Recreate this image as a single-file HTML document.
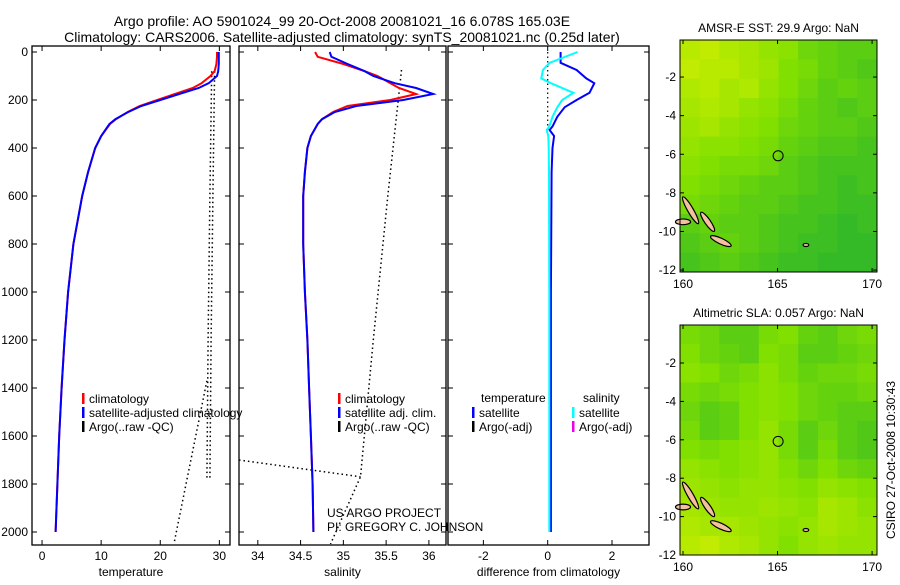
<!DOCTYPE html>
<html><head><meta charset="utf-8"><style>
body{margin:0;background:#fff;font-family:"Liberation Sans",sans-serif}
svg text{font-family:"Liberation Sans",sans-serif;font-size:12px;fill:#000}
svg text.title{font-size:14px}
</style></head><body>
<svg id="fig" width="900" height="580" xmlns="http://www.w3.org/2000/svg">
<text class="title" x="342" y="26" text-anchor="middle">Argo profile: AO 5901024_99 20-Oct-2008 20081021_16 6.078S 165.03E</text>
<text class="title" x="342" y="42" text-anchor="middle">Climatology: CARS2006. Satellite-adjusted climatology: synTS_20081021.nc (0.25d later)</text>
<g id="plots"></g>
<text x="327" y="517">US ARGO PROJECT</text>
<text x="327" y="531">PI: GREGORY C. JOHNSON</text>
<text transform="translate(895,460) rotate(-90)" text-anchor="middle">CSIRO 27-Oct-2008 10:30:43</text>
</svg>
<script>
// ---- data ----
const depths=[0,20,50,80,100,130,150,175,200,225,250,280,300,350,400,500,600,800,1000,1200,1400,1600,1800,2000];
const tempClim=[29.6,29.6,29.5,29.2,28.5,27,25.5,22.5,19.5,16.5,14.5,12.5,11.5,10,9,7.8,6.8,5.3,4.4,3.8,3.3,2.9,2.6,2.3];
const tempSat=[29.9,29.9,29.9,29.8,29.6,28.2,26.5,23.2,20,16.8,14.6,12.4,11.4,10,9,7.8,6.8,5.3,4.4,3.8,3.3,2.9,2.6,2.3];
const salClim=[34.67,34.7,35.0,35.25,35.4,35.55,35.65,35.85,35.55,35.05,34.88,34.75,34.7,34.62,34.58,34.55,34.53,34.53,34.55,34.58,34.6,34.62,34.64,34.65];
const salSat=[34.84,34.86,35.05,35.25,35.35,35.6,35.85,36.05,35.7,35.15,34.9,34.75,34.7,34.62,34.58,34.55,34.53,34.53,34.55,34.58,34.6,34.62,34.64,34.65];
const diffDepths=[0,45,75,110,130,170,200,230,270,310,325,350,400,500,1000,2000];
const diffTemp=[0.4,0.4,0.9,1.2,1.45,1.3,0.9,0.53,0.3,0.15,0.06,0.2,0.15,0.12,0.1,0.1];
const diffSal=[0.93,0.06,-0.15,-0.2,0.1,0.8,0.45,0.3,0.15,0.05,-0.03,0.02,0.03,0.04,0.05,0.05];
const rawTempD=[80,600,1200,1780];
const rawTempV=[29.2,28.9,28.6,28.4];
const rawTemp2D=[1370,2050];
const rawTemp2V=[27.9,22.3];
const rawSalD=[75,600,1200,1770,2050];
const rawSalV=[35.68,35.52,35.35,35.2,34.85];
const rawSal2D=[1700,1770];
const rawSal2V=[33.78,35.2];
const depthTicks=[0,200,400,600,800,1000,1200,1400,1600,1800,2000];
const tempTicks=[0,10,20,30], salTicks=[34,34.5,35,35.5,36], diffTicks=[-2,0,2];
const lonTicks=[160,165,170], latTicks=[-2,-4,-6,-8,-10,-12];
const sstGrid=[
[.8,.85,.75,.7,.6,.55,.4,.35,.3,.3],
[.85,.8,.8,.7,.65,.5,.45,.35,.3,.25],
[.75,.8,.7,.75,.6,.5,.4,.3,.35,.3],
[.7,.75,.7,.6,.55,.45,.35,.3,.25,.3],
[.65,.7,.6,.55,.5,.4,.35,.3,.3,.25],
[.6,.55,.55,.5,.45,.35,.3,.25,.25,.2],
[.55,.5,.45,.45,.4,.3,.25,.2,.2,.2],
[.5,.45,.4,.35,.3,.3,.25,.2,.15,.2],
[.45,.4,.35,.3,.3,.25,.2,.2,.15,.15],
[.3,.35,.3,.3,.25,.2,.2,.15,.1,.15],
[.25,.3,.35,.3,.25,.2,.15,.15,.1,.1],
[.2,.25,.3,.25,.2,.15,.15,.1,.1,.1]];
const slaGrid=[
[.45,.4,.3,.3,.45,.5,.35,.3,.4,.45],
[.5,.4,.35,.3,.5,.45,.3,.3,.35,.4],
[.55,.5,.4,.45,.55,.45,.35,.4,.4,.45],
[.45,.4,.45,.5,.55,.5,.4,.35,.35,.4],
[.4,.3,.35,.5,.55,.5,.4,.35,.3,.3],
[.45,.3,.35,.5,.6,.45,.3,.4,.3,.25],
[.5,.45,.5,.55,.6,.45,.3,.45,.3,.25],
[.6,.55,.5,.55,.6,.5,.4,.5,.4,.35],
[.65,.6,.55,.6,.6,.55,.5,.6,.55,.5],
[.7,.65,.6,.6,.65,.6,.55,.7,.65,.55],
[.75,.7,.7,.65,.6,.55,.6,.7,.65,.6],
[.8,.85,.75,.7,.6,.5,.6,.65,.6,.6]];
// ---- drawing ----
const NS='http://www.w3.org/2000/svg';
const root=document.getElementById('plots');
function mk(tag,at,parent){const e=document.createElementNS(NS,tag);for(const k in at)e.setAttribute(k,at[k]);(parent||root).appendChild(e);return e;}
const yTop=52,yPer=0.24;
const yD=d=>yTop+d*yPer;
function panel(name,x0,x1,vmin,vmax,ticks,label,ylabels){
  const g=mk('g',{});
  
  
  const xf=v=>x0+(v-vmin)/(vmax-vmin)*(x1-x0);
  const box=mk('rect',{x:x0,y:46,width:x1-x0,height:499,fill:'none',stroke:'#000','stroke-width':1.3},g);
  
  
  ticks.forEach(t=>{const x=xf(t);
    mk('line',{x1:x,x2:x,y1:545,y2:540,stroke:'#000'},g);mk('line',{x1:x,x2:x,y1:46,y2:51,stroke:'#000'},g);
    const tx=mk('text',{x:x,y:560,'text-anchor':'middle'},g);tx.textContent=t;
    
    });
  depthTicks.forEach(d=>{const y=yD(d);
    mk('line',{x1:x0,x2:x0+5,y1:y,y2:y,stroke:'#000'},g);mk('line',{x1:x1-5,x2:x1,y1:y,y2:y,stroke:'#000'},g);
    if(ylabels){const tx=mk('text',{x:28,y:y+4,'text-anchor':'end'},g);tx.textContent=d;
      
      }});
  const lb=mk('text',{x:(x0+x1)/2,y:576,'text-anchor':'middle'},g);lb.textContent=label;
  
  
  return {g,xf};
}
function line(p,vals,ds,color,w,dash,name){
  const pts=vals.map((v,i)=>p.xf(v).toFixed(1)+','+yD(ds[i]).toFixed(1)).join(' ');
  const l=mk('polyline',{points:pts,fill:'none',stroke:color,'stroke-width':w,'stroke-dasharray':dash||'none'},p.g);
  
  
}
function legend(g,x,y,color,text,name){
  mk('rect',{x:x,y:y-10,width:2.5,height:11,fill:color},g);
  const t=mk('text',{x:x+7,y:y},g);t.textContent=text;
  
  
}
const p1=panel('temperature',32,230,-1.7,31.8,tempTicks,'temperature',true);
line(p1,rawTempV,rawTempD,'#000',1.5,'1.5 3','temp-argo-raw-line');
line(p1,rawTempV.map(v=>v-0.5),rawTempD,'#000',1.5,'1.5 3','temp-argo-qc-line');
line(p1,rawTemp2V,rawTemp2D,'#000',1.5,'1.5 3','temp-argo-raw-line-2');
line(p1,tempClim,depths,'#f00',2,null,'temp-climatology-line');
line(p1,tempSat,depths,'#00f',2,null,'temp-satellite-line');
legend(p1.g,82,403,'#f00','climatology','legend-climatology');
legend(p1.g,82,417,'#00f','satellite-adjusted climatology','legend-satellite');
legend(p1.g,82,431,'#000','Argo(..raw -QC)','legend-argo');
const p2=panel('salinity',239,446,33.78,36.2,salTicks,'salinity',false);
line(p2,rawSalV,rawSalD,'#000',1.5,'1.5 3','sal-argo-raw-line');
line(p2,rawSal2V,rawSal2D,'#000',1.5,'1.5 3','sal-argo-raw-line-2');
line(p2,salClim,depths,'#f00',2,null,'sal-climatology-line');
line(p2,salSat,depths,'#00f',2,null,'sal-satellite-line');
legend(p2.g,338,403,'#f00','climatology','legend-sal-climatology');
legend(p2.g,338,417,'#00f','satellite adj. clim.','legend-sal-satellite');
legend(p2.g,338,431,'#000','Argo(..raw -QC)','legend-sal-argo');
const p3=panel('difference',448,649,-3.1,3.15,diffTicks,'difference from climatology',false);
line(p3,[0,0],[0,330],'#000',1.2,'1.5 3','zero-reference-line');
line(p3,diffTemp,diffDepths,'#00f',2,null,'diff-temp-line');
line(p3,diffSal,diffDepths,'#0ff',2,null,'diff-sal-line');
{const t=mk('text',{x:481,y:402},p3.g);t.textContent='temperature';
 const s=mk('text',{x:583,y:402},p3.g);s.textContent='salinity';}
legend(p3.g,472,417,'#00f','satellite','legend-diff-temp-sat');
legend(p3.g,472,431,'#000','Argo(-adj)','legend-diff-temp-argo');
legend(p3.g,572,417,'#0ff','satellite','legend-diff-sal-sat');
legend(p3.g,572,431,'#e0e','Argo(-adj)','legend-diff-sal-argo');
function cmap(v){const a=[32,176,48],b=[130,224,0],c=[220,240,0];let p,q,t;
 if(v<0.5){p=a;q=b;t=v/0.5}else{p=b;q=c;t=(v-0.5)/0.5}
 return 'rgb('+p.map((x,i)=>Math.round(x+(q[i]-x)*t)).join(',')+')';}
function map(name,title,grid,x0,x1,y0,y1,latTop,latBot){
  const g=mk('g',{});
  
  
  const lonMin=159.84,lonMax=170.26;
  const xf=l=>x0+(l-lonMin)/(lonMax-lonMin)*(x1-x0);
  const yf=l=>y0+(latTop-l)/(latTop-latBot)*(y1-y0);
  const rows=grid.length,cols=grid[0].length,cw=(x1-x0)/cols,ch=(y1-y0)/rows;
  grid.forEach((r,i)=>r.forEach((v,j)=>{const c=mk('rect',{x:x0+j*cw,y:y0+i*ch,width:cw+0.5,height:ch+0.5,fill:cmap(v)},g);
    
    }));
  const isl=[[160.4,-8.9,0.15,0.8,-30],[161.3,-9.5,0.15,0.6,-35],[160.0,-9.5,0.4,0.15,0],[162.0,-10.5,0.6,0.15,25],[166.5,-10.7,0.15,0.08,0]];
  isl.forEach(s=>{const e=mk('ellipse',{cx:xf(s[0]),cy:yf(s[1]),rx:s[2]*18.9,ry:s[3]*19.3,fill:'#f4c0a0',stroke:'#000','stroke-width':1.2,transform:'rotate('+s[4]+' '+xf(s[0])+' '+yf(s[1])+')'},g);
    
    });
  const circ=mk('circle',{cx:xf(165.03),cy:yf(-6.08),r:5,fill:'none',stroke:'#000'},g);
  
  
  mk('rect',{x:x0,y:y0,width:x1-x0,height:y1-y0,fill:'none',stroke:'#000'},g);
  lonTicks.forEach(l=>{const x=xf(l);mk('line',{x1:x,x2:x,y1:y1,y2:y1-4,stroke:'#000'},g);mk('line',{x1:x,x2:x,y1:y0,y2:y0+4,stroke:'#000'},g);
    const t=mk('text',{x:x,y:y1+16,'text-anchor':'middle'},g);t.textContent=l;
    
    });
  latTicks.forEach(l=>{const y=yf(l);mk('line',{x1:x0,x2:x0+4,y1:y,y2:y,stroke:'#000'},g);mk('line',{x1:x1-4,x2:x1,y1:y,y2:y,stroke:'#000'},g);
    const t=mk('text',{x:x0-4,y:y+4,'text-anchor':'end'},g);t.textContent=l;
    
    });
  const tt=mk('text',{x:(x0+x1)/2,y:y0-8,'text-anchor':'middle'},g);tt.textContent=title;
  
  
}
map('sst-map','AMSR-E SST: 29.9 Argo: NaN',sstGrid,680,877,40,272,-0.08,-12.1);
map('sla-map','Altimetric SLA: 0.057 Argo: NaN',slaGrid,680,877,325,555,-0.02,-12);
</script>
</body></html>
